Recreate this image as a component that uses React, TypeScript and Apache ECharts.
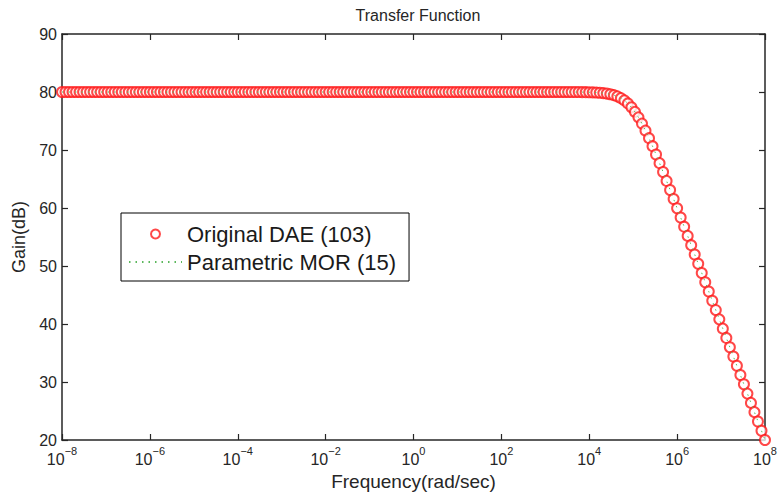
import React, { useEffect, useRef } from "react";
import * as echarts from "echarts";

// log10 of frequency (rad/sec) for each sample
const freqExp: number[] = [
  -8, -7.92, -7.84, -7.76, -7.68, -7.6, -7.52, -7.44, -7.36, -7.28, -7.2, -7.12, -7.04, -6.96, -6.88, -6.8, -6.72, -6.64, -6.56, -6.48, -6.4, -6.32, -6.24, -6.16, -6.08,
  -6, -5.92, -5.84, -5.76, -5.68, -5.6, -5.52, -5.44, -5.36, -5.28, -5.2, -5.12, -5.04, -4.96, -4.88, -4.8, -4.72, -4.64, -4.56, -4.48, -4.4, -4.32, -4.24, -4.16, -4.08,
  -4, -3.92, -3.84, -3.76, -3.68, -3.6, -3.52, -3.44, -3.36, -3.28, -3.2, -3.12, -3.04, -2.96, -2.88, -2.8, -2.72, -2.64, -2.56, -2.48, -2.4, -2.32, -2.24, -2.16, -2.08,
  -2, -1.92, -1.84, -1.76, -1.68, -1.6, -1.52, -1.44, -1.36, -1.28, -1.2, -1.12, -1.04, -0.96, -0.88, -0.8, -0.72, -0.64, -0.56, -0.48, -0.4, -0.32, -0.24, -0.16, -0.08,
  0, 0.08, 0.16, 0.24, 0.32, 0.4, 0.48, 0.56, 0.64, 0.72, 0.8, 0.88, 0.96, 1.04, 1.12, 1.2, 1.28, 1.36, 1.44, 1.52, 1.6, 1.68, 1.76, 1.84, 1.92,
  2, 2.08, 2.16, 2.24, 2.32, 2.4, 2.48, 2.56, 2.64, 2.72, 2.8, 2.88, 2.96, 3.04, 3.12, 3.2, 3.28, 3.36, 3.44, 3.52, 3.6, 3.68, 3.76, 3.84, 3.92,
  4, 4.08, 4.16, 4.24, 4.32, 4.4, 4.48, 4.56, 4.64, 4.72, 4.8, 4.88, 4.96, 5.04, 5.12, 5.2, 5.28, 5.36, 5.44, 5.52, 5.6, 5.68, 5.76, 5.84, 5.92,
  6, 6.08, 6.16, 6.24, 6.32, 6.4, 6.48, 6.56, 6.64, 6.72, 6.8, 6.88, 6.96, 7.04, 7.12, 7.2, 7.28, 7.36, 7.44, 7.52, 7.6, 7.68, 7.76, 7.84, 7.92,
  8,
];

// Gain (dB) of the original DAE model (103)
const daeGain: number[] = [
  80, 80, 80, 80, 80, 80, 80, 80, 80, 80, 80, 80, 80, 80, 80, 80, 80, 80, 80, 80, 80, 80, 80, 80, 80,
  80, 80, 80, 80, 80, 80, 80, 80, 80, 80, 80, 80, 80, 80, 80, 80, 80, 80, 80, 80, 80, 80, 80, 80, 80,
  80, 80, 80, 80, 80, 80, 80, 80, 80, 80, 80, 80, 80, 80, 80, 80, 80, 80, 80, 80, 80, 80, 80, 80, 80,
  80, 80, 80, 80, 80, 80, 80, 80, 80, 80, 80, 80, 80, 80, 80, 80, 80, 80, 80, 80, 80, 80, 80, 80, 80,
  80, 80, 80, 80, 80, 80, 80, 80, 80, 80, 80, 80, 80, 80, 80, 80, 80, 80, 80, 80, 80, 80, 80, 80, 80,
  80, 80, 80, 80, 80, 80, 80, 80, 80, 80, 80, 80, 80, 80, 80, 80, 80, 80, 80, 80, 79.99, 79.99, 79.99, 79.98, 79.97,
  79.96, 79.94, 79.91, 79.87, 79.81, 79.73, 79.62, 79.46, 79.24, 78.94, 78.55, 78.03, 77.37, 76.57, 75.63, 74.55, 73.34, 72.04, 70.66, 69.22, 67.73, 66.21, 64.67, 63.11, 61.54,
  59.96, 58.37, 56.78, 55.19, 53.59, 51.99, 50.4, 48.8, 47.2, 45.6, 44, 42.4, 40.8, 39.2, 37.6, 36, 34.4, 32.8, 31.2, 29.6, 28, 26.4, 24.8, 23.2, 21.6,
  20,
];

// Gain (dB) of the parametric reduced model (15) - overlaps the original
const morGain: number[] = daeGain.slice();

const xTickExps: number[] = [-8, -6, -4, -2, 0, 2, 4, 6, 8];
const yTicks: number[] = [20, 30, 40, 50, 60, 70, 80, 90];

const FONT = "'Liberation Sans', Arial, Helvetica, sans-serif";
const AXIS_COLOR = "#262626";
const GREEN = "#5cb85c";
const RED = "#ff1a1a";

export default function App() {
  const ref = useRef<HTMLDivElement>(null);

  useEffect(() => {
    document.body.style.margin = "0";
    if (!ref.current) return;
    const chart = echarts.init(ref.current, undefined, { renderer: "svg" });

    const axisLine = { show: true, onZero: false, lineStyle: { color: AXIS_COLOR, width: 1.5 } };
    const axisTick = { show: true, inside: true, length: 6, lineStyle: { color: AXIS_COLOR, width: 1.2 } };

    const supLabel = (v: number) => {
      const s = v < 0 ? "\u2212" + Math.abs(v) : String(v);
      return "{b|10}{s|" + s + "}";
    };

    chart.setOption({
      animation: false,
      backgroundColor: "#ffffff",
      textStyle: { fontFamily: FONT },
      title: {
        text: "Transfer Function",
        left: 413,
        textAlign: "center",
        top: 2,
        textStyle: { fontSize: 16, fontWeight: "normal", color: AXIS_COLOR, fontFamily: FONT },
      },
      grid: { left: 62, right: 13, top: 34, bottom: 52, containLabel: false, outerBoundsMode: "none" },
      legend: {
        orient: "vertical",
        left: 121,
        top: 213,
        data: [
          { name: "Original DAE (103)" },
          { name: "Parametric MOR (15)", itemStyle: { opacity: 0 } },
        ],
        itemWidth: 53,
        itemHeight: 9,
        itemGap: 6,
        padding: [10, 13, 8, 7],
        borderColor: "#000000",
        borderWidth: 1,
        backgroundColor: "#ffffff",
        selectedMode: false,
        textStyle: { fontSize: 22, lineHeight: 22, color: "#1a1a1a", fontFamily: FONT },
      },
      xAxis: [
        {
          type: "value",
          position: "bottom",
          min: xTickExps[0],
          max: xTickExps[xTickExps.length - 1],
          interval: 2,
          axisLine,
          axisTick,
          splitLine: { show: false },
          axisLabel: {
            margin: 5,
            formatter: supLabel,
            rich: {
              b: { fontSize: 16, color: AXIS_COLOR, fontFamily: FONT },
              s: { fontSize: 11, color: AXIS_COLOR, fontFamily: FONT, padding: [0, 0, 18, 0] },
            },
          },
          name: "Frequency(rad/sec)",
          nameLocation: "middle",
          nameGap: 24,
          nameTextStyle: { fontSize: 19, color: AXIS_COLOR, fontFamily: FONT },
        },
        {
          type: "value",
          position: "top",
          min: xTickExps[0],
          max: xTickExps[xTickExps.length - 1],
          interval: 2,
          axisLine,
          axisTick,
          splitLine: { show: false },
          axisLabel: { show: false },
        },
      ],
      yAxis: [
        {
          type: "value",
          position: "left",
          min: yTicks[0],
          max: yTicks[yTicks.length - 1],
          interval: 10,
          axisLine,
          axisTick,
          splitLine: { show: false },
          axisLabel: { margin: 5, fontSize: 16, color: AXIS_COLOR, fontFamily: FONT },
          name: "Gain(dB)",
          nameLocation: "middle",
          nameGap: 33,
          nameTextStyle: { fontSize: 18, color: AXIS_COLOR, fontFamily: FONT },
        },
        {
          type: "value",
          position: "right",
          min: yTicks[0],
          max: yTicks[yTicks.length - 1],
          interval: 10,
          axisLine,
          axisTick,
          splitLine: { show: false },
          axisLabel: { show: false },
        },
      ],
      series: [
        {
          name: "Original DAE (103)",
          type: "scatter",
          xAxisIndex: 0,
          yAxisIndex: 0,
          symbol: "emptyCircle",
          symbolSize: 10,
          clip: false,
          itemStyle: { color: RED, borderColor: RED, borderWidth: 0.9 },
          data: freqExp.map((e, i) => [e, daeGain[i]]),
          z: 3,
        },
        {
          name: "Parametric MOR (15)",
          type: "line",
          xAxisIndex: 0,
          yAxisIndex: 0,
          symbol: "none",
          showSymbol: false,
          clip: false,
          lineStyle: { color: GREEN, width: 1, type: [1.5, 5] },
          itemStyle: { color: GREEN },
          data: freqExp.map((e, i) => [e, morGain[i]]),
          z: 4,
        },
      ],
    });

    return () => chart.dispose();
  }, []);

  return <div ref={ref} style={{ width: 778, height: 492 }} />;
}
